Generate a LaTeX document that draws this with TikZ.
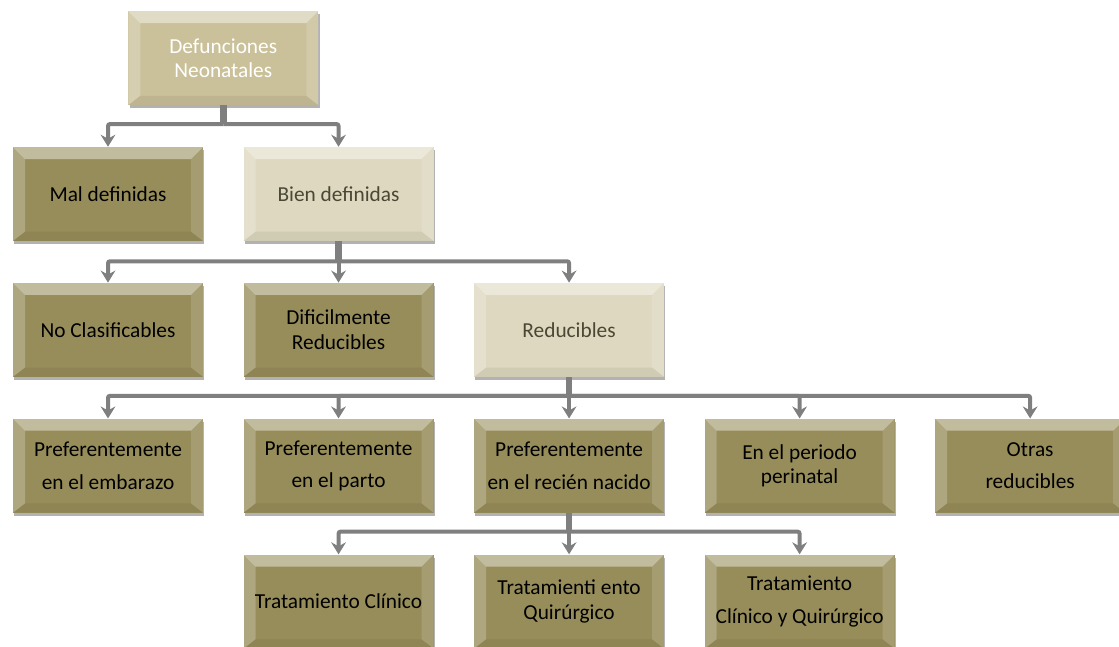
\documentclass[tikz,border=0pt]{standalone}
\usepackage{fontspec}
\setmainfont{Carlito}
\usetikzlibrary{positioning,arrows.meta,calc,shadows}
\definecolor{olivebox}{HTML}{978D5A}
\definecolor{creambox}{HTML}{DDD8BF}
\definecolor{tanbox}{HTML}{CAC19A}
\definecolor{creamtext}{HTML}{4A4734}
\definecolor{linkgray}{HTML}{7F7F7F}
\tikzset{
	bevel/.style={path picture={
		\fill[white,opacity=0.42] (path picture bounding box.north west) -- (path picture bounding box.north east)
			-- ([shift={(-9pt,-9pt)}]path picture bounding box.north east) -- ([shift={(9pt,-9pt)}]path picture bounding box.north west) -- cycle;
		\fill[white,opacity=0.22] (path picture bounding box.north west) -- ([shift={(9pt,-9pt)}]path picture bounding box.north west)
			-- ([shift={(9pt,7pt)}]path picture bounding box.south west) -- (path picture bounding box.south west) -- cycle;
		\fill[white,opacity=0.14] (path picture bounding box.north east) -- ([shift={(-9pt,-9pt)}]path picture bounding box.north east)
			-- ([shift={(-9pt,7pt)}]path picture bounding box.south east) -- (path picture bounding box.south east) -- cycle;
		\fill[black,opacity=0.06] (path picture bounding box.south west) -- ([shift={(9pt,7pt)}]path picture bounding box.south west)
			-- ([shift={(-9pt,7pt)}]path picture bounding box.south east) -- (path picture bounding box.south east) -- cycle;
	}},
	box/.style={rectangle,minimum width=142.5pt,minimum height=70.5pt,inner sep=2pt,align=center,
		font=\fontsize{16}{18.5}\selectfont,
		drop shadow={shadow xshift=1pt,shadow yshift=-2.5pt,opacity=0.3,fill=black},bevel},
	darkbox/.style={box,fill=olivebox,text=black},
	lightbox/.style={box,fill=creambox,text=creamtext},
	rootbox/.style={box,fill=tanbox,text=white},
	link/.style={draw=linkgray,line width=3pt,rounded corners=1.5pt,
		-{Stealth[length=9pt,width=11pt,inset=3pt]}},
	stem/.style={draw=linkgray,line width=5pt}
}

\begin{document}
\begin{tikzpicture}[node distance=31pt and 30pt]
	\useasboundingbox (0,0) rectangle (839.25pt,-484.5pt);

	\node[darkbox] (mal) at (81pt,-145.5pt) {Mal definidas};
	\node[lightbox] (bien) [right=of mal] {Bien definidas};
	\coordinate (mid) at ($(mal.north)!0.5!(bien.north)$);
	\node[rootbox] (root) [above=of mid] {Defunciones\\Neonatales};

	\node[darkbox] (nocla) [below=of mal] {No Clasificables};
	\node[darkbox] (dific) [right=of nocla] {Dificilmente\\Reducibles};
	\node[lightbox] (reduc) [right=of dific] {Reducibles};

	\node[darkbox] (emba) [below=of nocla] {Preferentemente\\[6pt]en el embarazo};
	\node[darkbox] (parto) [right=of emba] {Preferentemente\\[6pt]en el parto};
	\node[darkbox] (recien) [right=of parto] {Preferentemente\\[6pt]en el recién nacido};
	\node[darkbox] (peri) [right=of recien] {En el periodo\\perinatal};
	\node[darkbox] (otras) [right=of peri] {Otras\\[6pt]reducibles};

	\node[darkbox] (clin) [below=of parto] {Tratamiento Clínico};
	\node[darkbox] (quir) [below=of recien] {Tratamienti ento\\Quirúrgico};
	\node[darkbox] (clinquir) [below=of peri] {Tratamiento\\[6pt]Clínico y Quirúrgico};

	% junctions
	\coordinate (j1) at ($(root.south)+(0,-14pt)$);
	\coordinate (j2) at ($(bien.south)+(0,-15pt)$);
	\coordinate (j3) at ($(reduc.south)+(0,-14pt)$);
	\coordinate (j4) at ($(recien.south)+(0,-14pt)$);

	\draw[stem] (root.south) -- (j1);
	\draw[link] (j1) -| (mal.north);
	\draw[link] (j1) -| (bien.north);

	\draw[stem] (bien.south) -- (j2);
	\draw[link] (j2) -| (nocla.north);
	\draw[link] (j2) -| (dific.north);
	\draw[link] (j2) -| (reduc.north);

	\draw[stem] (reduc.south) -- (j3);
	\foreach \n in {emba,parto,recien,peri,otras}
		\draw[link] (j3) -| (\n.north);

	\draw[stem] (recien.south) -- (j4);
	\foreach \n in {clin,quir,clinquir}
		\draw[link] (j4) -| (\n.north);
\end{tikzpicture}
\end{document}
